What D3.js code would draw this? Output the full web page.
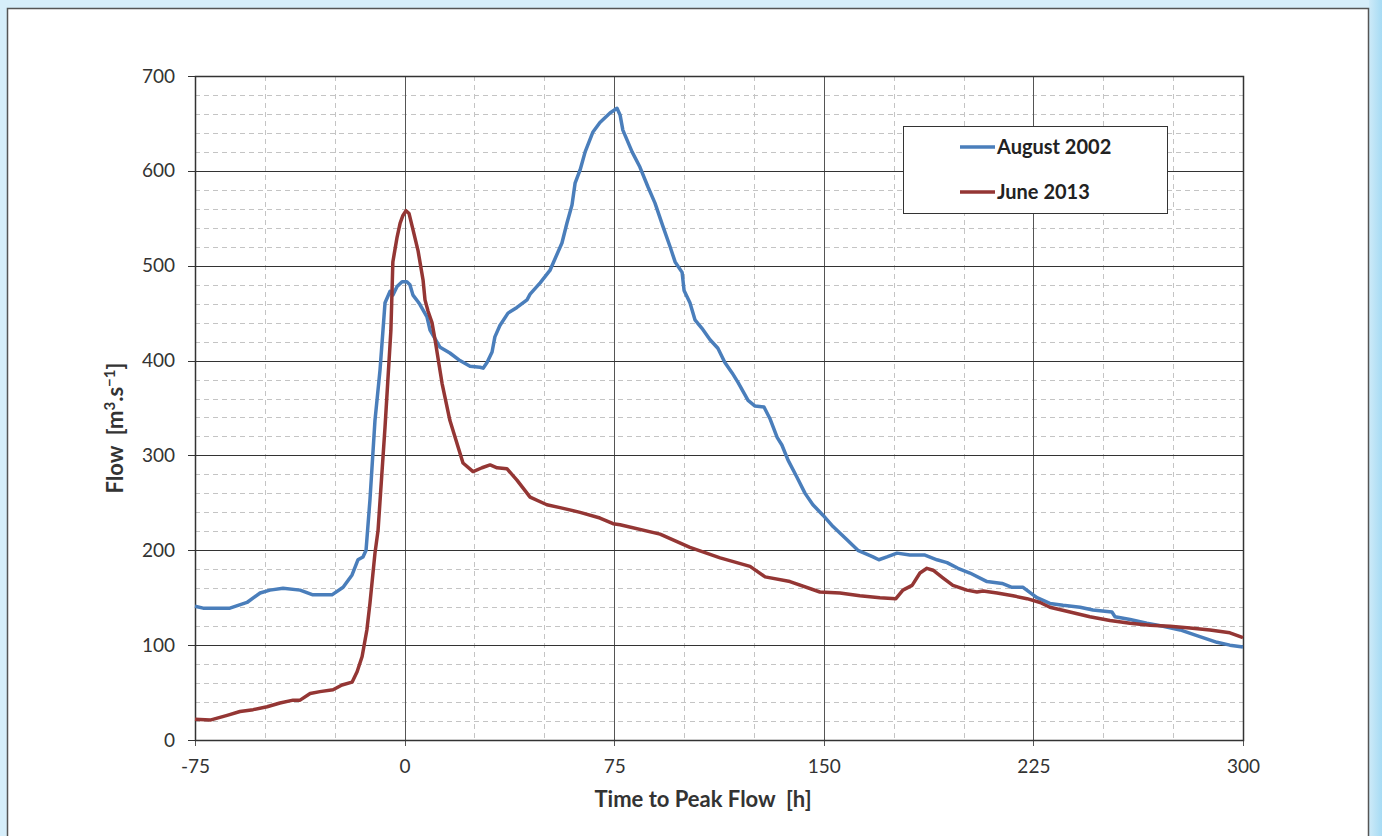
<!DOCTYPE html>
<html>
<head>
<meta charset="utf-8">
<script src="https://cdn.jsdelivr.net/npm/d3@7"></script>
<style>
    html, body { margin: 0; padding: 0; background: #d6eefa; }
    svg { display: block; }
</style>
</head>
<body>
<div id="chart"></div>
<script>
// hours relative to peak flow, flow in m3/s
const augustHours = [-75, -72.1, -62.5, -56.4, -51.7, -48.2, -43.5, -37.4, -32.8, -26, -22, -18.8, -16.7, -14.9, -13.8, -12.4, -10.6, -8.8, -7, -5.2, -4.2, -2.7, -0.9, 0.8, 1.9, 3, 4.8, 5.5, 8, 9.1, 12.7, 16.2, 19.8, 23.4, 27, 28.1, 29.5, 31.3, 32.3, 34.1, 37, 40.2, 43.8, 44.9, 48.5, 52, 56.3, 58.1, 59.9, 61, 62.8, 64.6, 67.4, 69.9, 73.5, 76, 77.1, 78.1, 81.4, 84.2, 87.1, 89.6, 92.5, 95, 96.8, 99.3, 100, 102.1, 103.9, 106.4, 109.3, 112.1, 114.6, 117.2, 119.3, 122.9, 125.4, 128.6, 130.7, 133.3, 135, 137.2, 140.4, 143.3, 146.1, 149.7, 153.3, 158.3, 162.2, 167.6, 169.7, 172.6, 176.2, 180.8, 186.2, 190.5, 194.1, 198, 202.3, 208.4, 213.8, 217.3, 221.3, 224.9, 226.3, 230.9, 235.6, 241.7, 246.3, 253.1, 254.2, 259.6, 265.6, 271.4, 277.5, 283.5, 290.7, 295.3, 300];
const augustFlow = [141, 139, 139, 145, 155, 158, 160, 158, 153, 153, 161, 174, 190, 193, 200, 253, 337, 390, 461, 473, 469, 478, 483, 483, 480, 469, 462, 459, 446, 432, 414, 408, 400, 394, 393, 392, 398, 409, 425, 437, 450, 456, 464, 470, 482, 495, 524, 545, 564, 587, 601, 620, 641, 651, 661, 666, 659, 643, 620, 604, 583, 566, 541, 520, 504, 493, 474, 461, 443, 434, 422, 413, 398, 387, 377, 358, 352, 351, 339, 319, 311, 295, 277, 260, 248, 237, 225, 211, 200, 193, 190, 193, 197, 195, 195, 190, 187, 181, 176, 167, 165, 161, 161, 153, 150, 144, 142, 140, 137, 135, 130, 127, 123, 120, 116, 110, 103, 100, 98];

const juneHours = [-75, -69.6, -63.5, -58.9, -54.2, -49.2, -44.6, -39.9, -37.4, -33.8, -30.3, -25.6, -22.4, -18.8, -17, -15.2, -13.5, -12.4, -10.6, -9.5, -7, -4.9, -4.2, -2.7, -1.6, -0.6, 0.5, 1.6, 3, 4.8, 6.6, 7.3, 8.4, 9.8, 10.9, 13.4, 16.2, 20.9, 24.5, 27.7, 30.6, 33.1, 36.6, 40.2, 44.9, 50.9, 55.6, 62.8, 69.9, 74.6, 77.1, 91.4, 102.1, 112.9, 123.6, 129, 137.9, 148.6, 155.8, 162.9, 170.1, 175.8, 178.3, 181.6, 184.4, 186.9, 189.1, 192.6, 196.2, 201.2, 204.8, 207, 212, 217.7, 222.7, 227.4, 230.9, 238.1, 245.2, 252.4, 259.6, 266.7, 273.9, 281, 288.2, 295.3, 300];
const juneFlow = [22, 21, 26, 30, 32, 35, 39, 42, 42, 49, 51, 53, 58, 61, 72, 88, 116, 144, 197, 221, 330, 432, 504, 530, 545, 553, 558, 555, 538, 516, 485, 464, 452, 440, 422, 376, 337, 292, 283, 287, 290, 287, 286, 274, 256, 248, 245, 240, 234, 228, 227, 217, 203, 192, 183, 172, 167, 156, 155, 152, 150, 149, 158, 163, 176, 181, 179, 171, 163, 158, 156, 157, 155, 152, 149, 145, 140, 135, 130, 126, 123, 121, 120, 118, 116, 113, 108];

const xTicks = [-75, 0, 75, 150, 225, 300];
const yTicks = [0, 100, 200, 300, 400, 500, 600, 700];
const seriesNames = ["August 2002", "June 2013"];
const seriesColors = ["#4a7ebb", "#943634"];

const width = 1382, height = 836;
const plot = { left: 195, right: 1243, top: 76, bottom: 740 };
const font = "Lato, 'Open Sans', sans-serif";

const svg = d3.select("#chart")
    .append("svg")
    .attr("width", width)
    .attr("height", height)
    .attr("viewBox", `0 0 ${width} ${height}`);

//background: blue frame with gradient on right edge
const defs = svg.append("defs");
const grad = defs.append("linearGradient").attr("id", "edge").attr("x1", 0).attr("x2", 1);
grad.append("stop").attr("offset", 0).attr("stop-color", "#cdeaf8");
grad.append("stop").attr("offset", 1).attr("stop-color", "#a6dbf4");
svg.append("rect").attr("x", 0).attr("y", 0).attr("width", width).attr("height", height).attr("fill", "#d6eefa");
svg.append("rect").attr("x", 1369).attr("y", 0).attr("width", 13).attr("height", height).attr("fill", "url(#edge)");

//white panel
svg.append("rect")
    .attr("x", 7.5)
    .attr("y", 8.5)
    .attr("width", 1361)
    .attr("height", 860)
    .attr("fill", "#fff")
    .attr("stroke", "#555")
    .attr("stroke-width", 1.5);

const xScale = d3.scaleLinear().domain([-75, 300]).range([plot.left, plot.right]);
const yScale = d3.scaleLinear().domain([0, 700]).range([plot.bottom, plot.top]);

//minor grid, dashed
const grid = svg.append("g");
grid.selectAll(".vminor")
    .data(d3.range(-50, 300, 25).filter(v => v % 75 !== 0))
    .join("line")
    .attr("x1", d => Math.round(xScale(d)) + 0.5)
    .attr("x2", d => Math.round(xScale(d)) + 0.5)
    .attr("y1", plot.top)
    .attr("y2", plot.bottom)
    .attr("stroke", "#c4c4c4")
    .attr("stroke-dasharray", "5,4");
grid.selectAll(".hminor")
    .data(d3.range(20, 700, 20).filter(v => v % 100 !== 0))
    .join("line")
    .attr("x1", plot.left)
    .attr("x2", plot.right)
    .attr("y1", d => Math.round(yScale(d)) + 0.5)
    .attr("y2", d => Math.round(yScale(d)) + 0.5)
    .attr("stroke", "#c4c4c4")
    .attr("stroke-dasharray", "5,4");

//major grid, solid
grid.selectAll(".vmajor")
    .data(xTicks)
    .join("line")
    .attr("x1", d => Math.round(xScale(d)) + 0.5)
    .attr("x2", d => Math.round(xScale(d)) + 0.5)
    .attr("y1", plot.top)
    .attr("y2", plot.bottom + 6)
    .attr("stroke", "#555");
grid.selectAll(".hmajor")
    .data(yTicks)
    .join("line")
    .attr("x1", plot.left - 7)
    .attr("x2", plot.right)
    .attr("y1", d => Math.round(yScale(d)) + 0.5)
    .attr("y2", d => Math.round(yScale(d)) + 0.5)
    .attr("stroke", "#333");

//axes (labels only, lines drawn above)
const xAxis = d3.axisBottom(xScale).tickValues(xTicks).tickSize(0).tickPadding(20).tickFormat(d => String(d));
const yAxis = d3.axisLeft(yScale).tickValues(yTicks).tickSize(0).tickPadding(20).tickFormat(d => String(d));
const gx = svg.append("g").attr("transform", `translate(0,${plot.bottom})`).call(xAxis);
const gy = svg.append("g").attr("transform", `translate(${plot.left},0)`).call(yAxis);
[gx, gy].forEach(g => {
    g.select(".domain").remove();
    g.selectAll("text")
        .attr("font-family", font)
        .attr("font-size", "19px")
        .attr("fill", "#333");
});

//plot frame
svg.append("rect")
    .attr("x", plot.left + 0.5)
    .attr("y", plot.top + 0.5)
    .attr("width", plot.right - plot.left)
    .attr("height", plot.bottom - plot.top)
    .attr("fill", "none")
    .attr("stroke", "#333")
    .attr("stroke-width", 1.5);

//series lines
const line = d3.line()
    .x(d => xScale(d[0]))
    .y(d => yScale(d[1]));
const series = [
    d3.zip(augustHours, augustFlow),
    d3.zip(juneHours, juneFlow)
];
series.forEach((s, i) => {
    svg.append("path")
        .datum(s)
        .attr("d", line)
        .attr("fill", "none")
        .attr("stroke", seriesColors[i])
        .attr("stroke-width", 3.5)
        .attr("stroke-linejoin", "round");
});

//axis titles
svg.append("text")
    .attr("x", 703)
    .attr("y", 807)
    .attr("text-anchor", "middle")
    .attr("font-family", font)
    .attr("font-size", "22px")
    .attr("font-weight", "bold")
    .attr("fill", "#333")
    .style("white-space", "pre")
    .text("Time to Peak Flow  [h]");

const ytitle = svg.append("text")
    .attr("transform", "translate(123,428) rotate(-90)")
    .attr("text-anchor", "middle")
    .attr("font-family", font)
    .attr("font-size", "22px")
    .attr("font-weight", "bold")
    .attr("fill", "#333")
    .style("white-space", "pre");
ytitle.append("tspan").text("Flow  [m");
ytitle.append("tspan").attr("font-size", "15px").attr("dy", -8).text("3");
ytitle.append("tspan").attr("dy", 8).text(".s");
ytitle.append("tspan").attr("font-size", "15px").attr("dy", -8).text("\u22121");
ytitle.append("tspan").attr("dy", 8).text("]");

//legend
const legend = svg.append("g");
legend.append("rect")
    .attr("x", 903.5)
    .attr("y", 126.5)
    .attr("width", 264)
    .attr("height", 87)
    .attr("fill", "#fff")
    .attr("stroke", "#333");
seriesNames.forEach((name, i) => {
    const y = 147 + i * 45;
    legend.append("line")
        .attr("x1", 960)
        .attr("x2", 995)
        .attr("y1", y)
        .attr("y2", y)
        .attr("stroke", seriesColors[i])
        .attr("stroke-width", 3.5);
    legend.append("text")
        .attr("x", 997)
        .attr("y", y + 7)
        .attr("font-family", font)
        .attr("font-size", "20px")
        .attr("font-weight", "bold")
        .attr("fill", "#222")
        .text(name);
});
</script>
</body>
</html>
